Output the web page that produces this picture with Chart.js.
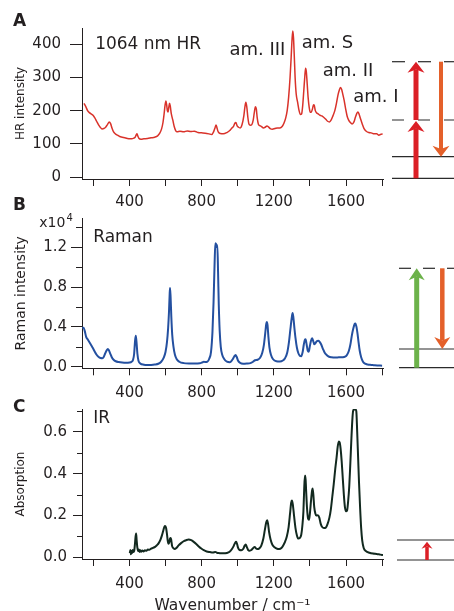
<!DOCTYPE html>
<html>
<head>
<meta charset="utf-8">
<script src="https://cdn.jsdelivr.net/npm/chart.js@4.4.1/dist/chart.umd.min.js"></script>
<style>
html, body { margin: 0; padding: 0; background: #fff; overflow: hidden; width: 454px; height: 611px; position: relative; }
canvas { position: absolute; left: 0; }
#hr { top: 0; }
#raman { top: 195px; }
#ir { top: 385px; }
</style>
</head>
<body>
<canvas id="hr" width="454" height="215"></canvas>
<canvas id="raman" width="454" height="210"></canvas>
<canvas id="ir" width="454" height="230"></canvas>
<script>
// spectra (wavenumber in cm-1)
const hrWavenumber = [148,158,168,178,188,198,208,218,228,238,248,258,268,278,288,296,304,312,322,334,346,360,374,388,400,412,424,432,438,442,446,452,464,480,500,520,540,556,568,578,586,592,597,602,606,610,614,618,622,626,632,640,648,656,664,680,700,720,740,760,780,800,820,840,856,866,874,880,886,892,904,920,940,956,968,976,984,990,996,1004,1014,1024,1034,1040,1045,1050,1056,1062,1070,1078,1086,1092,1098,1103,1108,1114,1122,1132,1142,1152,1162,1170,1180,1192,1206,1220,1234,1246,1256,1266,1274,1282,1290,1296,1301,1305,1309,1313,1318,1324,1332,1340,1348,1354,1360,1366,1372,1376,1380,1385,1390,1396,1402,1408,1414,1420,1424,1430,1438,1446,1456,1466,1476,1488,1498,1508,1518,1528,1538,1548,1556,1564,1570,1576,1582,1590,1598,1606,1614,1624,1634,1644,1652,1660,1666,1672,1680,1690,1700,1712,1726,1740,1756,1770,1782,1794,1803];
const hrIntensity = [222,212,200,194,190,186,178,168,158,150,145,146,150,158,166,160,146,136,130,126,122,120,118,116,115,115,117,120,128,130,124,117,114,115,116,118,120,124,132,145,165,190,215,229,218,200,196,210,222,214,190,172,152,140,136,138,136,139,137,138,134,133,132,130,128,136,148,157,146,136,131,130,134,140,148,152,162,164,155,150,148,158,185,212,225,212,180,160,156,158,172,195,212,205,178,160,155,152,148,150,154,151,146,144,146,148,148,152,162,178,200,240,300,360,415,440,420,370,300,250,225,200,188,190,215,260,305,328,318,280,240,210,195,196,205,218,216,200,193,190,186,184,180,174,168,166,172,185,200,225,248,264,270,264,250,230,205,184,172,164,160,166,180,192,196,190,176,160,146,138,134,133,130,130,126,129,130];

const ramanWavenumber = [138,146,152,160,170,180,190,198,208,218,228,240,250,258,266,274,280,286,294,302,312,324,340,360,380,400,412,420,426,431,435,439,444,450,460,480,500,520,540,560,576,590,600,608,614,619,623,625,628,632,637,644,652,662,676,700,730,760,790,805,812,820,832,842,852,860,866,872,876,880,884,887,891,895,900,906,914,924,940,956,970,980,988,994,1002,1012,1030,1050,1070,1085,1096,1110,1124,1136,1145,1152,1158,1161,1165,1170,1176,1184,1196,1214,1234,1250,1262,1274,1284,1292,1300,1304,1308,1314,1320,1328,1336,1344,1352,1360,1366,1372,1376,1382,1388,1393,1400,1406,1412,1418,1424,1430,1438,1446,1454,1462,1472,1482,1494,1506,1520,1540,1560,1580,1595,1606,1616,1624,1632,1640,1648,1652,1658,1664,1670,1676,1684,1694,1706,1720,1740,1760,1780,1800];
const ramanIntensity = [0.39,0.39,0.36,0.30,0.27,0.24,0.21,0.185,0.15,0.12,0.10,0.087,0.085,0.10,0.135,0.165,0.178,0.165,0.13,0.095,0.07,0.055,0.047,0.042,0.04,0.042,0.05,0.07,0.13,0.26,0.31,0.25,0.13,0.06,0.033,0.02,0.017,0.018,0.022,0.03,0.05,0.09,0.15,0.25,0.38,0.55,0.74,0.79,0.70,0.50,0.32,0.20,0.12,0.075,0.05,0.036,0.033,0.033,0.035,0.045,0.05,0.046,0.05,0.08,0.15,0.35,0.65,1.05,1.24,1.23,1.20,1.22,0.95,0.62,0.36,0.20,0.12,0.08,0.05,0.045,0.07,0.10,0.118,0.10,0.06,0.04,0.03,0.032,0.036,0.05,0.065,0.07,0.09,0.14,0.22,0.33,0.43,0.45,0.42,0.30,0.19,0.12,0.075,0.055,0.052,0.062,0.085,0.14,0.25,0.38,0.50,0.54,0.50,0.39,0.29,0.19,0.135,0.11,0.105,0.15,0.22,0.27,0.275,0.22,0.16,0.15,0.21,0.26,0.285,0.26,0.225,0.235,0.255,0.26,0.25,0.225,0.18,0.14,0.115,0.10,0.095,0.093,0.094,0.095,0.10,0.12,0.16,0.22,0.31,0.38,0.43,0.435,0.40,0.33,0.24,0.16,0.095,0.05,0.03,0.022,0.018,0.014,0.012,0.01];

const irWavenumber = [402,405,408,411,414,418,422,426,430,434,437,440,444,448,452,456,460,466,472,478,486,494,502,510,520,530,542,552,562,572,580,588,594,598,603,608,612,616,620,625,629,632,636,642,650,660,672,686,700,714,728,742,756,770,784,798,812,828,846,862,876,884,900,920,940,955,968,978,986,991,996,1002,1010,1020,1030,1038,1044,1050,1058,1066,1076,1086,1094,1100,1108,1118,1130,1142,1150,1158,1163,1168,1174,1182,1192,1204,1218,1230,1242,1252,1262,1272,1282,1290,1296,1300,1305,1312,1320,1328,1336,1344,1352,1358,1364,1368,1372,1375,1379,1384,1390,1395,1400,1406,1412,1415,1419,1424,1430,1436,1444,1452,1460,1468,1478,1488,1498,1508,1516,1524,1532,1540,1548,1554,1560,1565,1570,1576,1582,1588,1594,1600,1606,1612,1618,1624,1630,1636,1640,1646,1652,1657,1662,1667,1672,1678,1684,1690,1698,1710,1730,1750,1770,1790,1805];
const irAbsorption = [0.02,0.035,0.015,0.03,0.02,0.035,0.025,0.03,0.06,0.10,0.114,0.08,0.045,0.03,0.038,0.026,0.034,0.027,0.033,0.028,0.034,0.031,0.037,0.036,0.042,0.045,0.05,0.058,0.068,0.085,0.105,0.13,0.147,0.15,0.14,0.11,0.08,0.065,0.07,0.09,0.093,0.08,0.055,0.045,0.04,0.045,0.057,0.068,0.077,0.082,0.085,0.082,0.074,0.064,0.052,0.042,0.034,0.028,0.025,0.023,0.026,0.022,0.02,0.019,0.021,0.027,0.04,0.055,0.07,0.074,0.065,0.045,0.035,0.034,0.04,0.055,0.062,0.05,0.035,0.032,0.035,0.045,0.05,0.044,0.04,0.042,0.055,0.09,0.13,0.168,0.177,0.16,0.12,0.085,0.06,0.048,0.041,0.04,0.045,0.057,0.074,0.10,0.145,0.21,0.26,0.272,0.255,0.20,0.14,0.105,0.09,0.092,0.108,0.15,0.22,0.32,0.39,0.39,0.32,0.235,0.185,0.18,0.21,0.27,0.32,0.33,0.30,0.24,0.21,0.20,0.202,0.19,0.16,0.145,0.14,0.142,0.16,0.19,0.23,0.29,0.35,0.42,0.48,0.53,0.555,0.55,0.52,0.46,0.38,0.30,0.24,0.22,0.225,0.27,0.34,0.45,0.57,0.67,0.703,0.708,0.708,0.70,0.60,0.48,0.36,0.24,0.14,0.08,0.045,0.03,0.022,0.018,0.016,0.013,0.011];

const xLabelled = [400, 800, 1200, 1600];

const ink = '#231f20';
const red = '#db1f26';
const orange = '#e4602a';
const green = '#6cb24a';

Chart.defaults.font.family = '"DejaVu Sans", sans-serif';
Chart.defaults.color = ink;

function say(ctx, str, x, y, size, bold) {
  ctx.font = (bold ? 'bold ' : '') + size + 'px "DejaVu Sans"';
  ctx.fillStyle = ink;
  ctx.textAlign = 'left';
  ctx.textBaseline = 'middle';
  ctx.fillText(str, x, y);
}

// label placed at a data position
function sayAt(chart, str, v, val, size) {
  say(chart.ctx, str, chart.scales.x.getPixelForValue(v), chart.scales.y.getPixelForValue(val), size);
}

function minorTicks(chart, values, len) {
  const ctx = chart.ctx, y = chart.scales.y, left = chart.chartArea.left;
  ctx.strokeStyle = ink;
  ctx.lineWidth = 1;
  ctx.beginPath();
  values.forEach(v => {
    const py = Math.round(y.getPixelForValue(v)) + 0.5;
    ctx.moveTo(left - len, py);
    ctx.lineTo(left, py);
  });
  ctx.stroke();
}

function level(ctx, x1, x2, y, dash) {
  ctx.save();
  ctx.strokeStyle = '#2b2b2b';
  ctx.lineWidth = 1.2;
  ctx.setLineDash(dash || []);
  ctx.beginPath();
  ctx.moveTo(x1, y);
  ctx.lineTo(x2, y);
  ctx.stroke();
  ctx.restore();
}

function arrow(ctx, x, from, to, w, headW, headH, color) {
  const dir = to < from ? -1 : 1;
  const base = to - dir * headH;
  const notch = to - dir * headH * 0.7;
  ctx.fillStyle = color;
  ctx.fillRect(x - w / 2, Math.min(from, notch), w, Math.abs(from - notch));
  ctx.beginPath();
  ctx.moveTo(x, to);
  ctx.lineTo(x - headW / 2, base);
  ctx.lineTo(x, notch);
  ctx.lineTo(x + headW / 2, base);
  ctx.closePath();
  ctx.fill();
}

function spectrumChart(id, p) {
  const titleLine = p.yTitleSize * 1.2;
  const padLeft = 21 - titleLine / 2;
  const axisGrid = (len) => ({ drawOnChartArea: false, drawTicks: true, tickLength: len, color: ink, lineWidth: 1 });
  return new Chart(document.getElementById(id), {
    type: 'line',
    data: {
      datasets: [{
        data: p.xs.map((x, i) => ({ x: x, y: p.ys[i] })),
        borderColor: p.color,
        borderWidth: p.lineWidth,
        pointRadius: 0,
        cubicInterpolationMode: 'monotone',
        fill: false
      }]
    },
    options: {
      responsive: false,
      animation: false,
      events: [],
      layout: { padding: { top: p.top, left: padLeft, right: 454 - 383, bottom: 0 } },
      plugins: { legend: { display: false }, tooltip: { enabled: false } },
      scales: {
        x: {
          type: 'linear',
          min: 137,
          max: 1805,
          afterFit: s => { s.height = p.height - p.bottom; },
          grid: axisGrid(7),
          border: { color: ink, width: 1 },
          ticks: {
            stepSize: 200, autoSkip: false, maxRotation: 0, includeBounds: false,
            padding: p.xPad, font: { size: 15 }, color: ink,
            callback: v => xLabelled.includes(v) ? String(v) : ''
          },
          title: p.xTitle
            ? { display: true, text: p.xTitle, padding: 0, font: { size: 15.5 }, color: ink }
            : { display: false }
        },
        y: {
          min: p.yMin,
          max: p.yMax,
          afterFit: s => { s.width = 82 - padLeft; },
          grid: axisGrid(p.yTick),
          border: { color: ink, width: 1 },
          ticks: {
            stepSize: p.yStep, autoSkip: false, includeBounds: false,
            padding: p.yPad, font: { size: 15 }, color: ink,
            callback: p.yFormat
          },
          title: { display: true, text: p.yTitle, padding: 0, font: { size: p.yTitleSize }, color: ink }
        }
      }
    },
    plugins: [{ id: id + 'Decor', afterDraw: p.decor }]
  });
}

// A: hyper-Raman
spectrumChart('hr', {
  xs: hrWavenumber, ys: hrIntensity, color: '#d9322a', lineWidth: 1.5,
  top: 28, bottom: 179, height: 215,
  yMin: -6, yMax: 449, yStep: 100, yTick: 12, yPad: 9, xPad: 7,
  yFormat: v => String(v), yTitle: 'HR intensity', yTitleSize: 12,
  decor: chart => {
    const ctx = chart.ctx;
    say(ctx, 'A', 13, 22, 17, true);
    sayAt(chart, '1064 nm HR', 210, 400, 17);
    sayAt(chart, 'am. III', 954, 382, 18);
    sayAt(chart, 'am. S', 1355, 403, 18);
    sayAt(chart, 'am. II', 1471, 319, 18);
    sayAt(chart, 'am. I', 1640, 241, 18);
    // energy diagram
    level(ctx, 392, 454, 61.7, [13, 13]);
    level(ctx, 392, 454, 120, [12, 14]);
    level(ctx, 392, 454, 156.7);
    level(ctx, 392, 454, 178.3);
    arrow(ctx, 416, 178.3, 121, 5, 17, 11, red);
    arrow(ctx, 416, 120, 61.7, 5, 17, 11, red);
    arrow(ctx, 441, 61.7, 156.7, 4, 17, 11, orange);
  }
});

// B: Raman
spectrumChart('raman', {
  xs: ramanWavenumber, ys: ramanIntensity, color: '#2450a0', lineWidth: 2,
  top: 23.3, bottom: 173.3, height: 210,
  yMin: -0.016, yMax: 1.49, yStep: 0.4, yTick: 11, yPad: 4, xPad: 9,
  yFormat: v => v.toFixed(1), yTitle: 'Raman intensity', yTitleSize: 14,
  decor: chart => {
    const ctx = chart.ctx;
    say(ctx, 'B', 13, 10.5, 17, true);
    say(ctx, 'x10', 39.3, 28.7, 14);
    say(ctx, '4', 66.5, 23, 10);
    minorTicks(chart, [0.2, 0.6, 1.0, 1.4], 6);
    sayAt(chart, 'Raman', 199, 1.30, 17);
    level(ctx, 399, 454, 73.3, [12, 12]);
    level(ctx, 399, 454, 154);
    level(ctx, 399, 454, 172.7);
    arrow(ctx, 416.7, 172.7, 73.3, 5, 16, 12, green);
    arrow(ctx, 442.3, 73.3, 154, 4.5, 16, 12, orange);
  }
});

// C: IR absorption
spectrumChart('ir', {
  xs: irWavenumber, ys: irAbsorption, color: '#12291f', lineWidth: 2,
  top: 24, bottom: 174, height: 230,
  yMin: -0.008, yMax: 0.71, yStep: 0.2, yTick: 9, yPad: 6, xPad: 9,
  yFormat: v => v.toFixed(1), yTitle: 'Absorption', yTitleSize: 12,
  xTitle: 'Wavenumber / cm\u207B\u00B9',
  decor: chart => {
    const ctx = chart.ctx;
    say(ctx, 'C', 13, 23, 17, true);
    minorTicks(chart, [0.1, 0.3, 0.5, 0.7], 5);
    sayAt(chart, 'IR', 199, 0.662, 17);
    level(ctx, 397, 454, 155);
    level(ctx, 397, 454, 175);
    arrow(ctx, 427, 175, 156.7, 3.5, 11, 7, red);
  }
});
</script>
</body>
</html>
